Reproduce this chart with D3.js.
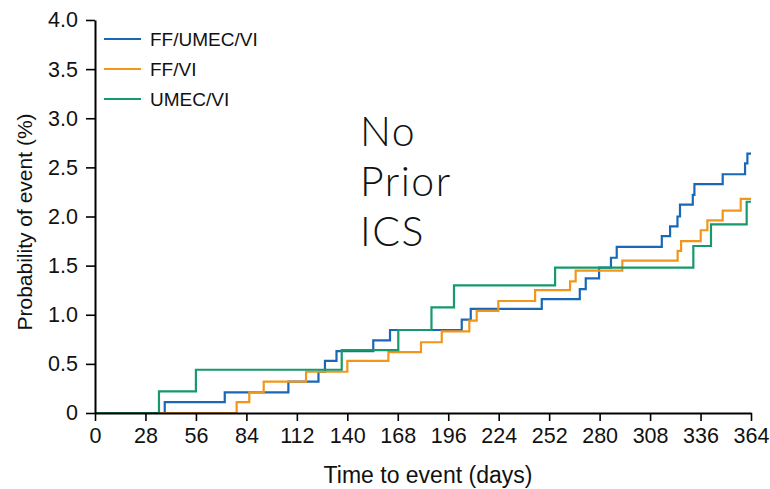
<!DOCTYPE html>
<html><head><meta charset="utf-8">
<script src="https://cdn.jsdelivr.net/npm/d3@7"></script>
<style>
html,body{margin:0;padding:0;background:#fff;}
svg{display:block;}
</style></head>
<body>
<svg id="chart" width="770" height="489"></svg>
<script>
const seriesNames = ["FF/UMEC/VI", "FF/VI", "UMEC/VI"];
const seriesColors = ["#1a68b4", "#f2961b", "#16996b"];

const blueDays = [0, 38.7, 72, 107.3, 124, 127.6, 134, 154.4, 163.7, 203.5, 208.5, 247.9, 269, 272.3, 279.7, 286.3, 289.5, 314.5, 319.1, 323.2, 324.6, 331.7, 332.6, 348.3, 360.7, 362, 364];
const blueVals = [0, 0.11, 0.21, 0.32, 0.42, 0.53, 0.63, 0.74, 0.845, 0.95, 1.06, 1.16, 1.26, 1.37, 1.48, 1.58, 1.69, 1.80, 1.90, 2.00, 2.12, 2.22, 2.33, 2.43, 2.54, 2.64, 2.64];

const orangeDays = [0, 78.6, 85.6, 93.6, 117.1, 140, 162.8, 180.9, 192.4, 207.7, 211.8, 223.8, 244.2, 263.6, 266.7, 292.6, 323.3, 325.2, 336.1, 339.8, 348.3, 358.3, 364];
const orangeVals = [0, 0.11, 0.21, 0.32, 0.42, 0.53, 0.62, 0.72, 0.83, 0.94, 1.04, 1.14, 1.25, 1.34, 1.45, 1.55, 1.65, 1.75, 1.86, 1.96, 2.06, 2.18, 2.18];

const greenDays = [0, 35.5, 56, 136.9, 168.3, 186.7, 199.2, 255.3, 332, 341.8, 361.6, 364];
const greenVals = [0, 0.22, 0.44, 0.64, 0.845, 1.075, 1.30, 1.48, 1.70, 1.92, 2.15, 2.15];

const xTicks = [0, 28, 56, 84, 112, 140, 168, 196, 224, 252, 280, 308, 336, 364];
const yTicks = [0, 0.5, 1.0, 1.5, 2.0, 2.5, 3.0, 3.5, 4.0];
const yTickLabels = ["0", "0.5", "1.0", "1.5", "2.0", "2.5", "3.0", "3.5", "4.0"];
const annotation = ["No", "Prior", "ICS"];

const svg = d3.select("#chart");
const x = d3.scaleLinear().domain([0, 364]).range([95, 751]);
const y = d3.scaleLinear().domain([0, 4]).range([413, 20]);
const font = "'Liberation Sans', Arial, Helvetica, sans-serif";

const series = [
  {days: blueDays, vals: blueVals},
  {days: orangeDays, vals: orangeVals},
  {days: greenDays, vals: greenVals}
];

const line = d3.line().x(d => x(d[0])).y(d => y(d[1])).curve(d3.curveStepAfter);
series.forEach((s, i) => {
  const pts = s.days.map((d, j) => [d, s.vals[j]]);
  svg.append("path").attr("d", line(pts)).attr("fill", "none")
    .attr("stroke", seriesColors[i]).attr("stroke-width", 2.2);
});

// axes
const xAxis = svg.append("g").attr("transform", "translate(0,413)")
  .call(d3.axisBottom(x).tickValues(xTicks).tickSize(8).tickPadding(7).tickSizeOuter(0));
xAxis.select(".domain").attr("stroke", "#000").attr("stroke-width", 2);
xAxis.selectAll(".tick line").attr("stroke", "#000").attr("stroke-width", 1.6);
xAxis.selectAll("text").attr("font-family", font)
  .attr("font-size", 21.5).attr("fill", "#111");

const yAxis = svg.append("g").attr("transform", "translate(95,0)")
  .call(d3.axisLeft(y).tickValues(yTicks).tickFormat((d, i) => yTickLabels[i]).tickSize(9).tickPadding(8).tickSizeOuter(0));
yAxis.select(".domain").attr("stroke", "#000").attr("stroke-width", 2);
yAxis.selectAll(".tick line").attr("stroke", "#000").attr("stroke-width", 1.6);
yAxis.selectAll("text").attr("font-family", font)
  .attr("font-size", 21.5).attr("fill", "#111");

svg.append("text").attr("x", 428).attr("y", 483).attr("text-anchor", "middle")
  .attr("font-family", font)
  .attr("font-size", 23).attr("fill", "#111").text("Time to event (days)");

svg.append("text").attr("transform", "translate(32,222) rotate(-90)").attr("text-anchor", "middle")
  .attr("font-family", font)
  .attr("font-size", 21).attr("fill", "#111").text("Probability of event (%)");

// legend
seriesNames.forEach((n, i) => {
  const ly = 39 + i * 30;
  svg.append("line").attr("x1", 104).attr("x2", 141).attr("y1", ly).attr("y2", ly)
    .attr("stroke", seriesColors[i]).attr("stroke-width", 2.2);
  svg.append("text").attr("x", 150).attr("y", ly + 6.5)
    .attr("font-family", font)
    .attr("font-size", 19).attr("fill", "#111").text(n);
});

// annotation
annotation.forEach((t, i) => {
  svg.append("text").attr("x", 360).attr("y", 146 + i * 50)
    .attr("font-family", "Lato, 'Noto Sans', sans-serif").attr("font-weight", 300)
    .attr("font-size", 41).attr("letter-spacing", 1.5).attr("fill", "#111").text(t);
});
</script>
</body></html>
